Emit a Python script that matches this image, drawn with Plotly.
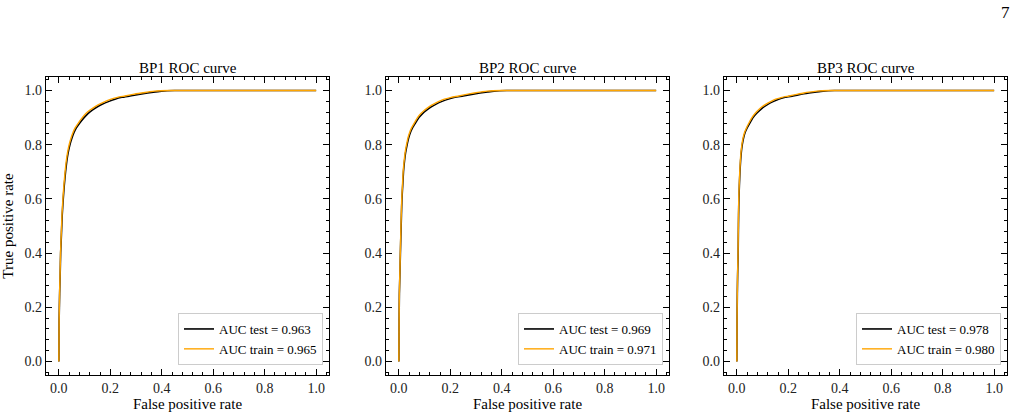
import plotly.graph_objects as go

titles = ["BP1 ROC curve", "BP2 ROC curve", "BP3 ROC curve"]
auc_test = ["0.963", "0.969", "0.978"]
auc_train = ["0.965", "0.971", "0.980"]

tpr_levels = [0, 0.15, 0.25, 0.32, 0.4, 0.47, 0.54, 0.6, 0.65, 0.7, 0.74, 0.77, 0.8, 0.825, 0.845, 0.862,
              0.881, 0.9, 0.915, 0.928, 0.94, 0.95, 0.96, 0.968, 0.975, 0.98, 0.986, 0.991, 0.995, 0.998, 1.0, 1.0]

# BP1
fpr1_test = [0, 0.001, 0.003, 0.005, 0.007, 0.010, 0.013, 0.017, 0.021, 0.026, 0.031, 0.036, 0.043, 0.051, 0.059, 0.068,
             0.082, 0.098, 0.113, 0.13, 0.15, 0.17, 0.195, 0.218, 0.245, 0.276, 0.31, 0.345, 0.375, 0.40, 0.45, 1.0]
fpr1_train = [0, 0.001, 0.0028, 0.0046, 0.0065, 0.0093, 0.012, 0.0158, 0.0195, 0.0242, 0.0288, 0.0335, 0.040, 0.0474, 0.0549, 0.0632,
              0.0763, 0.0911, 0.105, 0.121, 0.1395, 0.158, 0.181, 0.203, 0.228, 0.257, 0.288, 0.321, 0.349, 0.372, 0.43, 1.0]

# BP2
fpr2_test = [0, 0.001, 0.002, 0.004, 0.006, 0.008, 0.010, 0.012, 0.015, 0.018, 0.022, 0.026, 0.032, 0.038, 0.045, 0.053,
             0.065, 0.078, 0.092, 0.108, 0.126, 0.145, 0.168, 0.19, 0.218, 0.25, 0.283, 0.315, 0.345, 0.37, 0.42, 1.0]
fpr2_train = [0, 0.0009, 0.0019, 0.0037, 0.0056, 0.0074, 0.0093, 0.0112, 0.014, 0.0167, 0.0205, 0.0242, 0.0298, 0.0353, 0.0419, 0.0493,
              0.0605, 0.0725, 0.0856, 0.1004, 0.117, 0.135, 0.156, 0.177, 0.203, 0.233, 0.263, 0.293, 0.321, 0.344, 0.40, 1.0]

# BP3
fpr3_test = [0, 0.0008, 0.0018, 0.003, 0.005, 0.0058, 0.0068, 0.008, 0.0098, 0.012, 0.0145, 0.017, 0.021, 0.026, 0.032, 0.04,
             0.051, 0.063, 0.076, 0.09, 0.105, 0.122, 0.143, 0.162, 0.188, 0.218, 0.25, 0.28, 0.31, 0.335, 0.38, 1.0]
fpr3_train = [0, 0.0007, 0.0017, 0.0028, 0.0046, 0.0054, 0.0063, 0.0074, 0.0091, 0.0112, 0.0135, 0.0158, 0.0195, 0.0242, 0.0298, 0.0372,
              0.0474, 0.0586, 0.0707, 0.0837, 0.0977, 0.1135, 0.133, 0.151, 0.175, 0.203, 0.233, 0.26, 0.288, 0.312, 0.36, 1.0]

tick_vals = [0.0, 0.2, 0.4, 0.6, 0.8, 1.0]
tick_text = ["0.0", "0.2", "0.4", "0.6", "0.8", "1.0"]

data = [
    (fpr1_test, fpr1_train),
    (fpr2_test, fpr2_train),
    (fpr3_test, fpr3_train),
]

W, H = 1021, 417
FONT = "Liberation Serif"
lefts = [46, 386, 724]
pw = 283
top_px, bot_px = 77, 375

fig = go.Figure()
legend_names = ["legend", "legend2", "legend3"]
axis_common = dict(
    range=[-0.05, 1.05], tickvals=tick_vals, ticktext=tick_text,
    ticks="inside", ticklen=6, tickwidth=1, tickcolor="black",
    showline=True, linecolor="black", linewidth=1.2, mirror="allticks",
    showgrid=False, zeroline=False,
    tickfont=dict(family=FONT, size=14, color="#222"),
    minor=dict(dtick=0.04, tick0=0, ticks="inside", ticklen=3, tickwidth=1, tickcolor="black", showgrid=False),
)

layout = dict(
    width=W, height=H, margin=dict(l=0, r=0, t=0, b=0),
    paper_bgcolor="white", plot_bgcolor="white", font=dict(family=FONT, color="black"),
    showlegend=True,
)
annotations = []
for i, (ft, fr) in enumerate(data):
    xa = "x" if i == 0 else f"x{i+1}"
    ya = "y" if i == 0 else f"y{i+1}"
    lg = legend_names[i]
    fig.add_trace(go.Scatter(x=ft, y=tpr_levels, mode="lines",
                             line=dict(color="black", width=1.6, shape="spline", smoothing=0.5),
                             name=f"AUC test = {auc_test[i]}", xaxis=xa, yaxis=ya, legend=lg))
    fig.add_trace(go.Scatter(x=fr, y=tpr_levels, mode="lines",
                             line=dict(color="#FFA500", width=1.4, shape="spline", smoothing=0.5),
                             name=f"AUC train = {auc_train[i]}", xaxis=xa, yaxis=ya, legend=lg))
    x0 = lefts[i] / W
    x1 = (lefts[i] + pw) / W
    key_x = "xaxis" if i == 0 else f"xaxis{i+1}"
    key_y = "yaxis" if i == 0 else f"yaxis{i+1}"
    layout[key_x] = dict(axis_common, domain=[x0, x1], anchor=ya,
                         title=dict(text="False positive rate", font=dict(family=FONT, size=15), standoff=3))
    layout[key_y] = dict(axis_common, domain=[1 - bot_px / H, 1 - top_px / H], anchor=xa)
    layout[lg] = dict(
        x=(lefts[i] + pw - 6) / W, y=1 - (bot_px - 10) / H, xanchor="right", yanchor="bottom",
        xref="paper", yref="paper",
        bgcolor="white", bordercolor="#cccccc", borderwidth=1,
        font=dict(family=FONT, size=13, color="black"),
        tracegroupgap=0, itemwidth=30,
    )
    annotations.append(dict(text=titles[i], x=(lefts[i] + pw / 2) / W, y=1 - 68 / H,
                            xref="paper", yref="paper", showarrow=False,
                            font=dict(family=FONT, size=15, color="black"), xanchor="center", yanchor="middle"))

layout["yaxis"]["title"] = dict(text="True positive rate", font=dict(family=FONT, size=15), standoff=7)
annotations.append(dict(text="7", x=1005 / W, y=1 - 12 / H, xref="paper", yref="paper", showarrow=False,
                        font=dict(family=FONT, size=17, color="black"), xanchor="center", yanchor="middle"))
layout["annotations"] = annotations
fig.update_layout(**layout)
fig.write_html("out.html")
